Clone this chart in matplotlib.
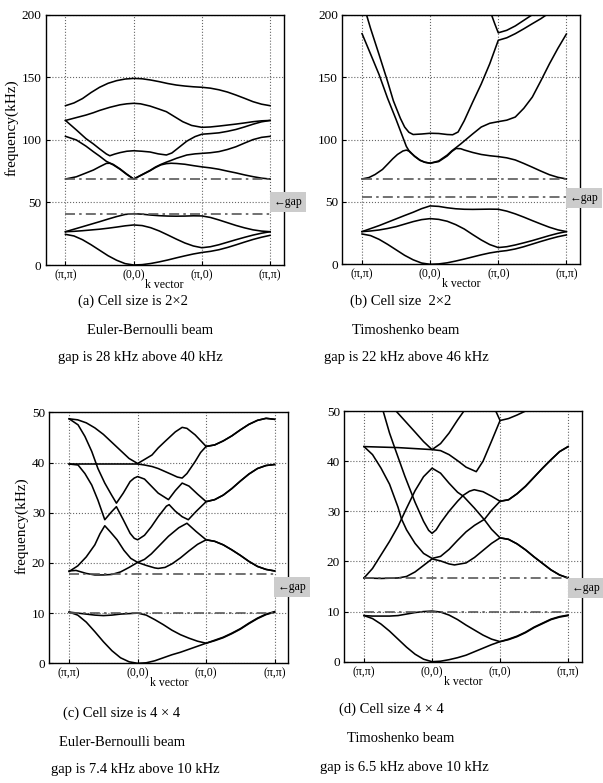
import numpy as np
import matplotlib.pyplot as plt

plt.rcParams['font.family'] = ['Liberation Serif', 'DejaVu Serif']

# k path: (pi,pi) -> (0,0) -> (pi,0) -> (pi,pi)
kticks = [0, 1, 2, 3]
klabels = ['(π,π)', '(0,0)', '(π,0)', '(π,π)']

# ---------------- (a) Euler-Bernoulli 2x2 ----------------
bands_a = [
    [(0,24.5),(0.125,23.2),(0.25,20.2),(0.375,16.2),(0.5,11.8),(0.625,7.4),(0.75,3.8),(0.875,1.1),(1,0),
     (1.125,0.3),(1.25,1.2),(1.375,2.5),(1.5,4.0),(1.625,5.7),(1.75,7.3),(1.875,8.8),(2,10.0),
     (2.125,10.9),(2.25,12.2),(2.375,14.0),(2.5,16.1),(2.625,18.3),(2.75,20.4),(2.875,22.2),(3,23.7)],
    [(0,26.6),(0.125,26.9),(0.25,27.4),(0.375,28.0),(0.5,28.6),(0.625,29.4),(0.75,30.3),(0.875,31.3),(1,32.0),
     (1.125,31.5),(1.25,29.8),(1.375,27.2),(1.5,24.0),(1.625,20.7),(1.75,17.6),(1.875,15.2),(2,13.8),
     (2.125,14.6),(2.25,16.2),(2.375,18.2),(2.5,20.2),(2.625,22.1),(2.75,23.9),(2.875,25.4),(3,26.6)],
    [(0,26.6),(0.125,28.6),(0.25,30.6),(0.375,32.6),(0.5,34.6),(0.625,36.7),(0.75,38.7),(0.875,40.4),(1,41.0),
     (1.125,40.6),(1.25,39.9),(1.375,39.4),(1.5,39.1),(1.625,39.0),(1.75,39.1),(1.875,39.3),(2,39.2),
     (2.125,38.0),(2.25,36.0),(2.375,33.8),(2.5,31.6),(2.625,29.7),(2.75,28.1),(2.875,27.1),(3,26.6)],
    [(0,68.7),(0.16,70.5),(0.3,73.5),(0.41,75.9),(0.5,78.5),(0.6,81.2),(0.65,81.3),(0.7,80.0),(0.8,76.5),
     (0.9,72.3),(1,68.7),(1.1,71.4),(1.24,75.3),(1.32,77.9),(1.4,80.0),(1.48,81.0),(1.55,81.3),(1.63,81.1),
     (1.75,80.5),(1.875,79.4),(2,78.4),(2.125,77.6),(2.25,76.5),(2.375,75.0),(2.5,73.6),(2.625,72.0),
     (2.75,70.6),(2.875,69.4),(3,68.7)],
    [(0,102.8),(0.16,99.9),(0.3,95.0),(0.41,90.5),(0.5,87.0),(0.6,82.8),(0.65,81.5),(0.7,80.4),(0.8,76.8),
     (0.9,72.6),(1,68.7),(1.1,71.6),(1.24,75.6),(1.32,78.3),(1.4,80.4),(1.48,82.2),(1.55,83.6),(1.63,85.3),
     (1.78,87.9),(1.9,88.8),(2,89.2),(2.125,89.7),(2.25,90.6),(2.375,92.3),(2.5,94.5),(2.625,97.4),
     (2.75,100.2),(2.875,102.0),(3,102.8)],
    [(0,115.5),(0.16,107.9),(0.3,101.0),(0.41,96.7),(0.5,92.8),(0.6,88.7),(0.65,87.3),(0.72,88.6),(0.8,89.8),
     (0.9,90.9),(1,91.3),(1.12,90.9),(1.24,90.3),(1.36,88.8),(1.48,87.9),(1.56,89.5),(1.63,92.5),(1.78,99.0),
     (1.9,102.6),(2,104.5),(2.125,105.0),(2.25,105.6),(2.375,106.8),(2.5,108.3),(2.625,110.3),(2.75,112.5),
     (2.875,114.4),(3,115.5)],
    [(0,115.5),(0.16,117.8),(0.3,119.8),(0.41,121.7),(0.5,123.5),(0.65,126.0),(0.8,128.0),(0.9,128.8),(1,129.2),
     (1.1,128.8),(1.24,127.0),(1.36,124.8),(1.48,122.5),(1.6,118.5),(1.72,114.5),(1.85,111.5),(2,110.0),
     (2.125,110.3),(2.25,111.0),(2.375,111.8),(2.5,112.6),(2.625,113.5),(2.75,114.5),(2.875,115.2),(3,115.5)],
    [(0,127.3),(0.125,129.5),(0.25,133.0),(0.375,137.8),(0.5,142.0),(0.625,145.2),(0.75,147.3),(0.875,148.6),
     (1,149.1),(1.125,148.8),(1.25,147.8),(1.375,146.5),(1.5,145.0),(1.625,143.8),(1.75,143.0),(1.875,142.4),
     (2,142.0),(2.125,141.3),(2.25,140.0),(2.375,138.2),(2.5,135.8),(2.625,133.2),(2.75,130.5),(2.875,128.5),
     (3,127.3)],
]
gap_a = [40.7, 68.7]

# ---------------- (b) Timoshenko 2x2 ----------------
bands_b = [
    [(0,24.3),(0.125,23.0),(0.25,20.0),(0.375,16.0),(0.5,11.6),(0.625,7.2),(0.75,3.6),(0.875,1.0),(1,0),
     (1.125,0.3),(1.25,1.2),(1.375,2.6),(1.5,4.2),(1.625,5.9),(1.75,7.6),(1.875,9.1),(2,10.2),
     (2.125,11.0),(2.25,12.3),(2.375,14.1),(2.5,16.2),(2.625,18.3),(2.75,20.3),(2.875,22.1),(3,23.5)],
    [(0,26.2),(0.125,26.7),(0.25,27.5),(0.375,28.7),(0.5,30.2),(0.625,32.2),(0.75,34.2),(0.875,35.8),(1,36.6),
     (1.125,36.0),(1.25,34.5),(1.375,31.8),(1.5,28.3),(1.625,23.8),(1.75,19.5),(1.875,15.8),(2,13.4),
     (2.125,14.1),(2.25,15.5),(2.375,17.2),(2.5,19.0),(2.625,21.0),(2.75,23.0),(2.875,24.8),(3,26.2)],
    [(0,26.2),(0.125,28.6),(0.25,31.0),(0.375,33.7),(0.5,36.4),(0.625,39.1),(0.75,41.7),(0.875,44.6),(1,46.8),
     (1.125,46.4),(1.25,45.3),(1.375,44.5),(1.5,44.1),(1.625,44.0),(1.75,44.1),(1.875,44.2),(2,44.1),
     (2.125,42.6),(2.25,40.4),(2.375,37.8),(2.5,35.0),(2.625,32.3),(2.75,29.7),(2.875,27.6),(3,26.2)],
    [(0,68.4),(0.1,69.5),(0.19,71.9),(0.3,76.0),(0.38,80.5),(0.45,84.5),(0.52,88.0),(0.6,90.8),(0.65,91.5),
     (0.7,90.5),(0.77,86.5),(0.85,83.3),(0.92,81.8),(1,81.0),(1.125,82.3),(1.25,86.8),(1.32,90.5),
     (1.38,92.8),(1.45,92.6),(1.5,91.6),(1.625,89.6),(1.75,88.0),(1.875,87.0),(2,86.3),(2.125,85.3),
     (2.25,83.6),(2.375,80.8),(2.5,77.8),(2.625,74.7),(2.75,71.8),(2.875,69.7),(3,68.4)],
    [(0,184.8),(0.125,168.5),(0.25,152.0),(0.375,133.0),(0.5,116.0),(0.58,104.5),(0.65,94.5),(0.7,90.0),
     (0.77,86.8),(0.85,83.5),(0.92,81.8),(1,81.0),(1.125,82.8),(1.25,87.5),(1.32,91.0),(1.38,93.5),
     (1.45,96.5),(1.5,98.8),(1.625,104.5),(1.75,110.0),(1.875,113.0),(2,114.3),(2.125,115.5),(2.25,118.0),
     (2.375,125.0),(2.5,134.0),(2.625,147.0),(2.75,160.5),(2.875,173.0),(3,184.5)],
    [(0,216.0),(0.0625,200.5),(0.125,189.0),(0.25,168.0),(0.375,146.5),(0.46,131.0),(0.5,125.5),(0.5625,117.0),
     (0.625,110.0),(0.6875,105.8),(0.75,104.0),(0.875,104.4),(1,105.0),(1.125,104.8),(1.25,104.0),
     (1.33,103.8),(1.41,106.0),(1.5,115.0),(1.625,130.0),(1.75,144.5),(1.875,160.7),(2,179.5),(2.125,181.5),
     (2.25,184.8),(2.375,188.7),(2.5,192.8),(2.625,196.8),(2.75,201.5)],
    [(1.85,205.0),(1.9,200.0),(1.95,192.5),(2,185.5),(2.125,187.5),(2.25,191.0),(2.375,195.5),(2.5,200.0),
     (2.6,204.0)],
]
gap_b = [53.6, 68.4]

# ---------------- (c) Euler-Bernoulli 4x4 ----------------
xm_c_low = [(2.125,24.3),(2.25,23.6),(2.375,22.6),(2.5,21.5),(2.625,20.3),(2.75,19.3),(2.875,18.7),(3,18.4)]
xm_c_mid = [(2.125,32.6),(2.25,33.5),(2.375,34.8),(2.5,36.3),(2.625,37.7),(2.75,38.8),(2.875,39.4),(3,39.6)]
xm_c_top = [(2.125,43.5),(2.25,44.3),(2.375,45.3),(2.5,46.5),(2.625,47.6),(2.75,48.4),(2.875,48.8),(3,48.6)]
bands_c = [
    [(0,10.2),(0.125,9.6),(0.25,8.2),(0.375,6.3),(0.5,4.3),(0.625,2.5),(0.75,1.1),(0.875,0.3),(1,0),
     (1.125,0.1),(1.25,0.5),(1.375,1.1),(1.5,1.7),(1.625,2.2),(1.75,2.8),(1.875,3.4),(2,4.0),
     (2.125,4.5),(2.25,5.1),(2.375,5.9),(2.5,6.8),(2.625,7.9),(2.75,8.9),(2.875,9.7),(3,10.2)],
    [(0,10.2),(0.125,10.0),(0.25,9.8),(0.375,9.6),(0.5,9.5),(0.625,9.6),(0.75,9.8),(0.875,9.9),(1,10.0),
     (1.125,9.6),(1.25,8.7),(1.375,7.7),(1.5,6.6),(1.625,5.7),(1.75,5.0),(1.875,4.4),(2,4.0),
     (2.125,4.6),(2.25,5.2),(2.375,6.0),(2.5,6.9),(2.625,8.0),(2.75,9.0),(2.875,9.8),(3,10.3)],
    [(0,18.3),(0.125,19.4),(0.25,21.2),(0.375,23.6),(0.45,25.8),(0.52,27.4),(0.6,26.2),(0.7,24.6),(0.8,22.5),
     (0.9,20.9),(1,20.1),(1.1,20.7),(1.2,21.8),(1.3,23.2),(1.45,25.3),(1.6,27.0),(1.72,27.9),(1.85,26.3),
     (2,24.6)] + xm_c_low,
    [(0,18.4),(0.1,18.5),(0.25,17.9),(0.375,17.6),(0.5,17.6),(0.625,17.7),(0.75,18.2),(0.875,19.1),(1,20.1),
     (1.125,19.5),(1.25,19.0),(1.3,18.9),(1.4,19.1),(1.5,19.8),(1.625,21.0),(1.75,22.4),(1.875,23.7),
     (2,24.6)] + xm_c_low,
    [(0,39.7),(0.13,39.5),(0.23,37.8),(0.33,35.5),(0.42,32.5),(0.52,28.6),(0.62,30.2),(0.69,31.2),(0.79,28.6),
     (0.89,25.9),(0.95,24.9),(1,24.6),(1.1,25.5),(1.2,27.2),(1.3,29.2),(1.42,31.3),(1.46,31.6),(1.55,30.3),
     (1.65,29.2),(1.74,28.6),(1.85,30.2),(2,32.2)] + xm_c_mid,
    [(0,48.7),(0.13,47.5),(0.23,45.2),(0.33,42.2),(0.42,38.8),(0.52,35.9),(0.62,33.5),(0.69,31.9),(0.79,33.9),
     (0.89,36.2),(0.95,36.9),(1,37.2),(1.1,36.7),(1.2,35.3),(1.3,33.9),(1.45,32.6),(1.55,34.4),(1.65,35.9),
     (1.75,35.3),(1.875,33.7),(2,32.2)] + xm_c_mid,
    [(0,39.7),(0.25,39.7),(0.5,39.7),(0.75,39.7),(1,39.7),(1.1,39.5),(1.21,39.2),(1.3,38.8),(1.4,38.2),
     (1.5,37.6),(1.58,37.1),(1.65,36.9),(1.72,37.8),(1.84,40.2),(1.92,42.0),(2,43.2)] + xm_c_top,
    [(0,48.7),(0.125,48.5),(0.25,47.9),(0.375,46.9),(0.5,45.6),(0.625,44.0),(0.75,42.4),(0.875,40.8),
     (1,39.8),(1.1,40.6),(1.21,41.5),(1.3,42.9),(1.4,44.2),(1.55,46.1),(1.65,47.0),(1.72,46.8),(1.84,45.5),
     (2,43.2)] + xm_c_top,
]
gap_c = [10.1, 17.7]

# ---------------- (d) Timoshenko 4x4 ----------------
xm_d_low = [(2.125,24.4),(2.25,23.5),(2.375,22.3),(2.5,20.9),(2.625,19.6),(2.75,18.3),(2.875,17.3),(3,16.7)]
xm_d_mid = [(2.125,32.3),(2.25,33.5),(2.375,35.0),(2.5,36.8),(2.625,38.6),(2.75,40.3),(2.875,41.9),(3,42.9)]
bands_d = [
    [(0,9.2),(0.125,8.6),(0.25,7.5),(0.375,6.1),(0.5,4.5),(0.625,2.9),(0.75,1.5),(0.875,0.5),(1,0),
     (1.125,0.1),(1.25,0.4),(1.375,0.8),(1.5,1.3),(1.625,2.0),(1.75,2.7),(1.875,3.4),(2,4.0),
     (2.125,4.4),(2.25,5.0),(2.375,5.8),(2.5,6.8),(2.625,7.6),(2.75,8.4),(2.875,8.9),(3,9.2)],
    [(0,9.2),(0.125,9.1),(0.25,9.1),(0.375,9.1),(0.5,9.2),(0.625,9.5),(0.75,9.8),(0.875,10.0),(1,10.1),
     (1.125,9.9),(1.25,9.3),(1.375,8.4),(1.5,7.3),(1.625,6.3),(1.75,5.3),(1.875,4.5),(2,4.0),
     (2.125,4.5),(2.25,5.1),(2.375,5.9),(2.5,6.9),(2.625,7.7),(2.75,8.5),(2.875,9.0),(3,9.3)],
    [(0,42.9),(0.25,42.8),(0.5,42.7),(0.75,42.5),(1,42.3),(1.125,43.5),(1.25,45.6),(1.375,48.2),(1.5,50.6)],
    [(0.45,50.3),(0.55,48.8),(0.65,47.3),(0.75,45.8),(0.875,43.9),(1,42.3),(1.125,42.1),(1.25,41.3),
     (1.375,40.1),(1.5,38.8),(1.65,37.9),(1.75,40.0),(1.875,44.0),(2,48.1),(2.125,48.5),(2.25,49.2),
     (2.375,50.0),(2.5,50.8)],
    [(0.27,50.5),(0.375,45.6),(0.45,42.7),(0.6,37.0),(0.75,31.8),(0.875,28.0),(0.95,26.2),(1,25.6),
     (1.06,26.3),(1.125,27.7),(1.25,30.0),(1.375,32.0),(1.46,33.2),(1.55,34.0),(1.62,34.3),(1.75,33.9),
     (1.875,33.0),(2,32.0)] + xm_d_mid,
    [(0,16.7),(0.125,18.6),(0.25,21.3),(0.375,24.0),(0.5,27.0),(0.625,30.6),(0.75,34.1),(0.875,36.9),
     (1,38.6),(1.125,37.6),(1.25,35.6),(1.375,33.8),(1.46,33.0),(1.625,30.6),(1.77,28.3),(1.875,26.4),
     (2,24.7)] + xm_d_low,
    [(0,42.9),(0.125,41.3),(0.25,38.6),(0.375,35.4),(0.5,30.8),(0.55,28.5),(0.625,26.3),(0.75,23.6),
     (0.875,21.6),(1,20.6),(1.125,21.0),(1.25,22.4),(1.375,24.2),(1.5,25.9),(1.625,27.2),(1.77,28.4),
     (1.875,30.2),(2,32.0)] + xm_d_mid,
    [(0,16.7),(0.25,16.6),(0.5,16.7),(0.625,17.0),(0.75,17.9),(0.875,19.2),(1,20.5),(1.125,20.1),
     (1.25,19.5),(1.33,19.3),(1.5,19.7),(1.625,20.8),(1.75,22.2),(1.875,23.6),(2,24.7)] + xm_d_low,
    [(1.9,51.0),(1.95,49.6),(2,48.1)],
]
gap_d = [10.0, 16.6]

yticks_top = [0, 50, 100, 150, 200]
yticks_bot = [0, 10, 20, 30, 40, 50]

captions = {
    'a': ['(a) Cell size is 2×2', 'Euler-Bernoulli beam', 'gap is 28 kHz above 40 kHz'],
    'b': ['(b) Cell size  2×2', 'Timoshenko beam', 'gap is 22 kHz above 46 kHz'],
    'c': ['(c) Cell size is 4 × 4', 'Euler-Bernoulli beam', 'gap is 7.4 kHz above 10 kHz'],
    'd': ['(d) Cell size 4 × 4', 'Timoshenko beam', 'gap is 6.5 kHz above 10 kHz'],
}

W, H = 603, 783
fig = plt.figure(figsize=(W/100, H/100), dpi=100)


def px_axes(l, t, r, b):
    return fig.add_axes([l/W, 1-b/H, (r-l)/W, (b-t)/H])


def draw(ax, bands, gaps, ymax, yticks, ylabel):
    for b in bands:
        k = [p[0] for p in b]
        f = [p[1] for p in b]
        ax.plot(k, f, color='k', lw=1.15)
    ax.hlines(gaps, 0, 3, colors='0.35', lw=1.2, linestyles=[(0, (6, 2.5, 1.5, 2.5))])
    ax.set_xlim(-0.29, 3.2)
    ax.set_ylim(0, ymax)
    ax.set_xticks(kticks)
    ax.set_xticklabels(klabels, fontsize=8.5)
    ax.set_yticks(yticks)
    ax.tick_params(axis='y', labelsize=9.5, direction='in', length=3, pad=3)
    ax.tick_params(axis='x', direction='in', length=3, pad=3)
    ax.grid(True, linestyle=':', color='0.4', lw=0.8)
    for s in ax.spines.values():
        s.set_linewidth(1.0)
    ax.set_xlabel('k vector', fontsize=8.5, labelpad=-1.5)
    if ylabel:
        ax.set_ylabel('frequency(kHz)', fontsize=11, labelpad=2, y=0.55)


ax_a = px_axes(45.7, 14.7, 283.7, 265)
ax_b = px_axes(342.3, 14.7, 580, 264.3)
ax_c = px_axes(49.3, 412.3, 288.3, 663.3)
ax_d = px_axes(344.3, 411, 581.7, 661.7)

draw(ax_a, bands_a, gap_a, 200, yticks_top, True)
draw(ax_b, bands_b, gap_b, 200, yticks_top, False)
draw(ax_c, bands_c, gap_c, 50, yticks_bot, True)
draw(ax_d, bands_d, gap_d, 50, yticks_bot, False)

# gap markers
for x, y in [(274, 202), (570, 198), (278, 587), (572, 588)]:
    fig.text(x/W, 1-y/H, '←gap', fontsize=8.5, ha='left', va='center',
             bbox=dict(boxstyle='square,pad=0.3', fc='#cccccc', ec='none'))

# captions
cap_pos = {
    'a': [(133, 301), (150, 330), (140, 358)],
    'b': [(401, 301), (406, 330), (406, 358)],
    'c': [(122, 713), (122, 742), (135, 770)],
    'd': [(391, 709), (401, 738), (404, 767)],
}
for key in 'abcd':
    for txt, (x, y) in zip(captions[key], cap_pos[key]):
        fig.text(x/W, 1-y/H, txt, fontsize=10.5, ha='center', va='center')

fig.savefig('out.png', dpi=100)
